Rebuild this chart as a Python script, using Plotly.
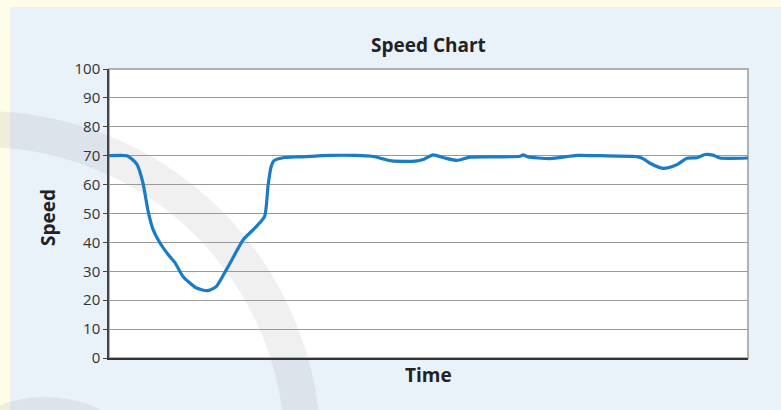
import plotly.graph_objects as go

# ---- data ----
time = [0, 4.5, 6, 7, 8.5, 9.75, 11, 12.75, 15.25, 16.5, 18.5, 21.75, 24.5, 26.25, 27,
        30.25, 33.6, 36.5, 38.9, 39.75, 40.5, 41.25, 43.5, 47.75, 55.25, 61.5, 65.75,
        68.25, 70.75, 76.5, 78.75, 81, 84, 87, 90.25, 97.75, 102.75, 103.5, 104.75,
        110.25, 117, 122.75, 132, 133.5, 135.25, 138.5, 140.25, 142, 144.5, 147, 149,
        151, 152.75, 159.75]
speed = [70, 70, 68.5, 67, 60.5, 51, 44.5, 39.8, 35, 33, 28.2, 24.3, 23.3, 24.2, 25,
         32.8, 41, 45, 49, 59.5, 66, 68.3, 69.3, 69.6, 70.1, 70.1, 69.8,
         69, 68.2, 68.1, 68.8, 70.3, 69.2, 68.4, 69.5, 69.6, 69.8, 70.3, 69.6,
         69, 70.1, 70, 69.7, 69, 67.4, 65.6, 66, 66.9, 69.1, 69.3, 70.4,
         70.2, 69.2, 69.2]
y_ticks = [0, 10, 20, 30, 40, 50, 60, 70, 80, 90, 100]

W, H = 781, 410
L, R, T, B = 109, 33, 69, 52
PW, PH = W - L - R, H - T - B


def px(x):
    return (x - L) / PW


def py(y):
    return (H - B - y) / PH


fig = go.Figure()
fig.add_trace(go.Scatter(
    x=time, y=speed, mode="lines",
    line=dict(color="#1a7bc6", width=3.2, shape="spline", smoothing=0.6),
    hoverinfo="skip", showlegend=False))

band = "rgba(120,120,120,0.11)"
shapes = []
# pale yellow strips (outside the blue panel)
shapes.append(dict(type="rect", xref="paper", yref="paper", x0=px(0), x1=px(10), y0=py(H), y1=py(0),
                   fillcolor="#fffce8", line_width=0, layer="below"))
shapes.append(dict(type="rect", xref="paper", yref="paper", x0=px(0), x1=px(W), y0=py(7), y1=py(0),
                   fillcolor="#fffce8", line_width=0, layer="below"))
# watermark arc
cx, cy, rr = -19, 451, 322
shapes.append(dict(type="circle", xref="paper", yref="paper",
                   x0=px(cx - rr), x1=px(cx + rr), y0=py(cy + rr), y1=py(cy - rr),
                   line=dict(color=band, width=36), fillcolor="rgba(0,0,0,0)",
                   layer="below"))
cx2, cy2, r2 = 45, 527, 130
shapes.append(dict(type="circle", xref="paper", yref="paper",
                   x0=px(cx2 - r2), x1=px(cx2 + r2), y0=py(cy2 + r2), y1=py(cy2 - r2),
                   line_width=0, fillcolor=band, layer="below"))
# plot border (top/right lighter)
shapes.append(dict(type="rect", xref="paper", yref="paper", x0=0, x1=1, y0=0, y1=1,
                   line=dict(color="#9a9a9a", width=1.5), layer="below"))

title_font = dict(size=19, color="#222", family="Open Sans, sans-serif")
annotations = [
    dict(text="<b>Speed Chart</b>", xref="paper", yref="paper", x=px(428), y=py(45),
         xanchor="center", yanchor="middle", showarrow=False, font=title_font),
    dict(text="<b>Time</b>", xref="paper", yref="paper", x=px(428), y=py(375),
         xanchor="center", yanchor="middle", showarrow=False, font=title_font),
    dict(text="<b>Speed</b>", xref="paper", yref="paper", x=px(48), y=py(218),
         xanchor="center", yanchor="middle", showarrow=False, textangle=-90, font=title_font),
]

fig.update_layout(
    width=W, height=H,
    margin=dict(l=L, r=R, t=T, b=B, pad=0),
    paper_bgcolor="#e9f1f9", plot_bgcolor="#ffffff",
    font=dict(family="Open Sans, sans-serif", color="#333"),
    shapes=shapes, annotations=annotations,
    xaxis=dict(range=[0, 159.75], showticklabels=False, showgrid=False, zeroline=False,
               showline=True, linecolor="#333", linewidth=1.5, ticks=""),
    yaxis=dict(range=[0, 100], tickvals=y_ticks, ticktext=[str(v) for v in y_ticks],
               showgrid=True, gridcolor="#9a9a9a", gridwidth=1.4, zeroline=False,
               showline=True, linecolor="#444", linewidth=1.5,
               ticks="outside", ticklen=4, tickcolor="#444", tickwidth=1,
               tickfont=dict(size=15, color="#333")),
)

fig.write_html("out.html",
               config={"displayModeBar": False},
               post_script="document.body.style.margin='0';document.body.style.overflow='hidden';")
